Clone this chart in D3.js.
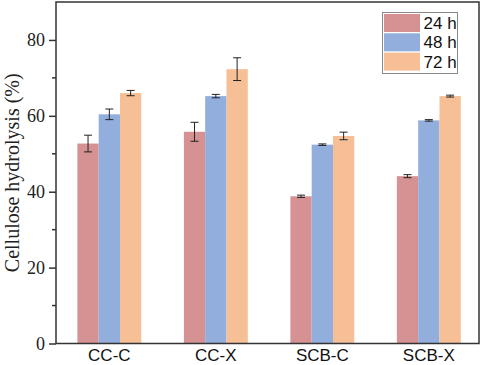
<!DOCTYPE html>
<html><head><meta charset="utf-8">
<script src="https://cdn.jsdelivr.net/npm/d3@7"></script>
<style>body{margin:0;background:#fff}svg{display:block}</style>
</head><body>
<svg id="c" width="484" height="365"></svg>
<script>
const categories = ["CC-C","CC-X","SCB-C","SCB-X"];
const series = ["24 h","48 h","72 h"];
const values = {
  "24 h": [52.7, 55.8, 38.8, 44.1],
  "48 h": [60.4, 65.2, 52.4, 58.8],
  "72 h": [66.0, 72.3, 54.7, 65.2]
};
const errors = {
  "24 h": [2.2, 2.5, 0.3, 0.4],
  "48 h": [1.4, 0.45, 0.2, 0.2],
  "72 h": [0.7, 3.0, 1.0, 0.25]
};
const yTicks = [0,20,40,60,80];
const colors = ["#d69292","#92aedd","#f6bf96"];

const svg = d3.select("#c");
const L=56, R=479, T=2, B=343.5;
const x = d3.scaleBand().domain(categories).range([L,R]).paddingInner(0.4).paddingOuter(0.186).align(0.54);
const xs = d3.scaleBand().domain(series).range([0,x.bandwidth()]).padding(0);
const y = d3.scaleLinear().domain([0,90]).range([B,T]);
const col = d3.scaleOrdinal().domain(series).range(colors);

// bars
series.forEach((s,si)=>{
  const g = svg.append("g");
  g.selectAll("rect").data(categories).join("rect")
    .attr("x",c=>x(c)+xs(s)).attr("width",xs.bandwidth())
    .attr("y",(c,i)=>y(values[s][i])).attr("height",(c,i)=>B-y(values[s][i]))
    .attr("fill",col(s));
  categories.forEach((c,i)=>{
    const cx = x(c)+xs(s)+xs.bandwidth()/2;
    const hi = y(values[s][i]+errors[s][i]), lo = y(values[s][i]-errors[s][i]);
    const eg = svg.append("g").attr("stroke","#222").attr("stroke-width",1);
    eg.append("line").attr("x1",cx).attr("x2",cx).attr("y1",hi).attr("y2",lo);
    eg.append("line").attr("x1",cx-4).attr("x2",cx+4).attr("y1",hi).attr("y2",hi);
    eg.append("line").attr("x1",cx-4).attr("x2",cx+4).attr("y1",lo).attr("y2",lo);
  });
});

// frame
svg.append("rect").attr("x",L).attr("y",T).attr("width",R-L).attr("height",B-T)
  .attr("fill","none").attr("stroke","#333").attr("stroke-width",1.5);

// y axis
const ya = d3.axisLeft(y).tickValues(yTicks).tickSize(7).tickPadding(4).tickFormat(d3.format("d"));
const yg = svg.append("g").attr("transform",`translate(${L},0)`).call(ya);
yg.select(".domain").remove();
yg.selectAll(".tick line").attr("stroke","#333").attr("stroke-width",1.5);
yg.selectAll(".tick text").attr("font-family","'Liberation Serif','Times New Roman',serif").attr("font-size",18).attr("fill","#222");
const minor = d3.range(10,90,20);
svg.append("g").selectAll("line").data(minor).join("line")
  .attr("x1",L-4).attr("x2",L).attr("y1",d=>y(d)).attr("y2",d=>y(d))
  .attr("stroke","#333").attr("stroke-width",1.5);

// x axis labels
const xa = d3.axisBottom(x).tickSize(0).tickPadding(5);
const xg = svg.append("g").attr("transform",`translate(0,${B})`).call(xa);
xg.select(".domain").remove();
xg.selectAll(".tick text").attr("font-family","'Liberation Sans',Arial,sans-serif").attr("font-size",17).attr("fill","#111");

// y title
svg.append("text").attr("transform",`translate(19,${(T+B)/2}) rotate(-90)`)
  .attr("text-anchor","middle").attr("font-family","'Liberation Serif','Times New Roman',serif")
  .attr("font-size",20).attr("fill","#222").text("Cellulose hydrolysis (%)");

// legend
const lg = svg.append("g").attr("transform","translate(382.5,12.5)");
lg.append("rect").attr("width",75).attr("height",61).attr("fill","#fff").attr("stroke","#888").attr("stroke-width",1);
series.forEach((s,i)=>{
  lg.append("rect").attr("x",1.5).attr("y",1.5+i*19.3).attr("width",36).attr("height",18).attr("fill",col(s));
  lg.append("text").attr("x",41).attr("y",10.5+i*19.3).attr("dy","0.35em")
    .attr("font-family","'Liberation Sans',Arial,sans-serif").attr("font-size",17).attr("fill","#111").text(s);
});
</script>
</body></html>
